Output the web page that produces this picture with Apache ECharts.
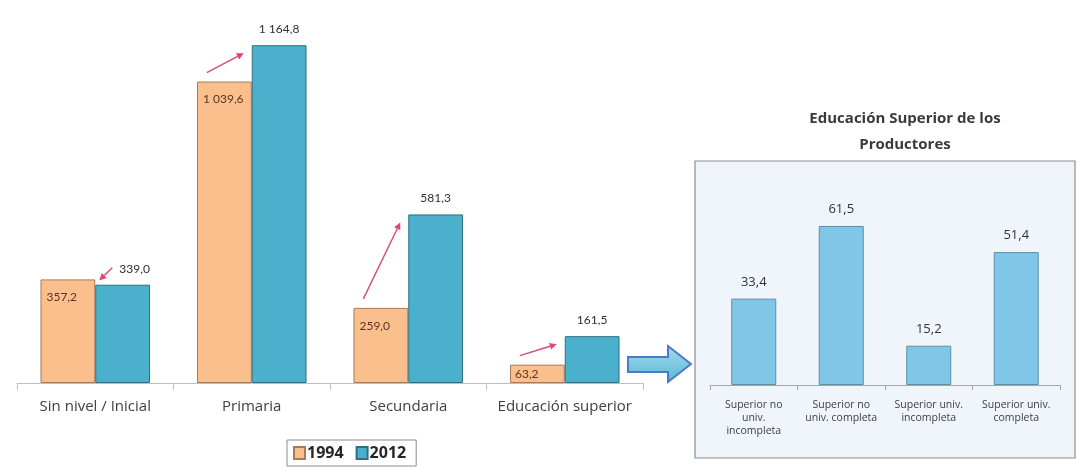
<!DOCTYPE html>
<html>
<head>
<meta charset="utf-8">
<script src="https://cdn.jsdelivr.net/npm/echarts@6/dist/echarts.min.js"></script>
<style>
html,body{margin:0;padding:0;background:#fff;}
#chart{width:1077px;height:471px;}
</style>
</head>
<body>
<div id="chart"></div>
<script>
// ---- data ----
const categories = ['Sin nivel / Inicial', 'Primaria', 'Secundaria', 'Educación superior'];
const values1994 = [357.2, 1039.6, 259.0, 63.2];
const values2012 = [339.0, 1164.8, 581.3, 161.5];
const seriesNames = ['1994', '2012'];

const insetTitle = 'Educación Superior de los\nProductores';
const insetCategories = ['Superior no\nuniv.\nincompleta', 'Superior no\nuniv. completa', 'Superior univ.\nincompleta', 'Superior univ.\ncompleta'];
const insetValues = [33.4, 61.5, 15.2, 51.4];

// ---- helpers ----
function fmt(v) {
  const parts = v.toFixed(1).split('.');
  const intPart = parts[0].replace(/\B(?=(\d{3})+(?!\d))/g, ' ');
  return intPart + ',' + parts[1];
}
const FONT = '"Open Sans", Lato, sans-serif';
const NUMFONT = 'Lato, "Open Sans", sans-serif';

const arrowData = categories.map((c, i) => [i, values1994[i], values2012[i]]);

function renderArrow(params, api) {
  const idx = api.value(0);
  const v1 = api.value(1), v2 = api.value(2);
  const catW = api.size([1, 0])[0];
  const bw = catW * 0.7 / 2;
  const cx = api.coord([idx, 0])[0];
  const y1 = api.coord([idx, v1])[1];
  const y2 = api.coord([idx, v2])[1];
  const oC = cx - bw / 2;
  const tL = cx;
  let sx, sy, ex, ey;
  if (v2 >= v1) {
    sx = oC - 0.32 * bw; sy = y1 - 9;
    ex = tL - 8; ey = y2 + 8;
  } else {
    sx = tL + 17; sy = y2 - 17;
    ex = tL + 4; ey = y1 + 1;
  }
  const ang = Math.atan2(ey - sy, ex - sx);
  const hl = 7, hw = 3.5;
  const bx = ex - hl * Math.cos(ang), by = ey - hl * Math.sin(ang);
  const px = -Math.sin(ang) * hw, py = Math.cos(ang) * hw;
  const col = '#d64a78';
  return {
    type: 'group',
    children: [
      { type: 'line', shape: { x1: sx, y1: sy, x2: bx, y2: by }, style: { stroke: col, lineWidth: 1.4 } },
      { type: 'polygon', shape: { points: [[ex, ey], [bx + px, by + py], [bx - px, by - py]] }, style: { fill: col } }
    ]
  };
}

// per-bar label placement derived from the values
const data1994 = values1994.map(v => ({
  value: v,
  label: v < 100 ? { position: 'insideLeft', offset: [-3, 0] } : {}
}));
const data2012 = values2012.map((v, i) => ({
  value: v,
  label: v < values1994[i] ? { offset: [12, 0] } : {}
}));

const chart = echarts.init(document.getElementById('chart'), null, { renderer: 'canvas' });
chart.setOption({
  backgroundColor: '#ffffff',
  animation: false,
  textStyle: { fontFamily: FONT },
  title: {
    text: insetTitle,
    left: 900,
    top: 101,
    textAlign: 'center',
    textStyle: { fontFamily: FONT, fontSize: 15, fontWeight: 'bold', color: '#3a3a3a', lineHeight: 26 }
  },
  legend: {
    data: seriesNames,
    left: 287,
    top: 440,
    padding: [5, 10, 5, 6],
    borderColor: '#8c8c8c',
    borderWidth: 1,
    itemWidth: 11,
    itemHeight: 12,
    itemGap: 12,
    icon: 'rect',
    textStyle: { fontFamily: FONT, fontSize: 16, fontWeight: 'bold', color: '#262626', padding: [0, 0, 0, -3] }
  },
  graphic: [
    {
      type: 'rect', z: -10, silent: true,
      shape: { x: 695, y: 161, width: 380, height: 297 },
      style: { fill: '#eff5fb', stroke: '#8e8e8e', lineWidth: 1.2 }
    },
    {
      type: 'polygon', z: 10, silent: true,
      shape: { points: [[628, 357], [668, 357], [668, 346], [691, 364], [668, 382], [668, 372], [628, 372]] },
      style: {
        fill: new echarts.graphic.LinearGradient(0, 0, 0, 1, [
          { offset: 0, color: '#9fdcec' }, { offset: 1, color: '#5fb6d6' }
        ]),
        stroke: '#4f78c8', lineWidth: 2
      }
    }
  ],
  grid: [
    { left: 17, right: 434, top: 35, bottom: 88, containLabel: false },
    { left: 710, right: 17, top: 204, bottom: 86, containLabel: false }
  ],
  xAxis: [
    {
      type: 'category', gridIndex: 0, data: categories,
      axisLine: { lineStyle: { color: '#bfbfbf', width: 1 } },
      axisTick: { show: true, length: 7, lineStyle: { color: '#bfbfbf' } },
      axisLabel: { fontFamily: FONT, fontSize: 15, color: '#404040', margin: 16, interval: 0 }
    },
    {
      type: 'category', gridIndex: 1, data: insetCategories,
      axisLine: { lineStyle: { color: '#a6a6a6', width: 1 } },
      axisTick: { show: true, length: 5, lineStyle: { color: '#a6a6a6' } },
      axisLabel: { fontFamily: FONT, fontSize: 10.5, color: '#404040', margin: 14, interval: 0, lineHeight: 13 }
    }
  ],
  yAxis: [
    { type: 'value', gridIndex: 0, min: 0, max: 1200, show: false, splitLine: { show: false } },
    { type: 'value', gridIndex: 1, min: 0, max: 70, show: false, splitLine: { show: false } }
  ],
  series: [
    {
      name: seriesNames[0], type: 'bar', xAxisIndex: 0, yAxisIndex: 0,
      data: data1994, barGap: '0%', barCategoryGap: '30%',
      itemStyle: { color: '#fbbf8e', borderColor: '#a87a58', borderWidth: 1 },
      label: {
        show: true, position: 'insideTopLeft', distance: 8, offset: [-2, 4],
        formatter: p => fmt(p.value),
        fontFamily: NUMFONT, fontSize: 12, color: '#5a3420'
      }
    },
    {
      name: seriesNames[1], type: 'bar', xAxisIndex: 0, yAxisIndex: 0,
      data: data2012, barGap: '0%', barCategoryGap: '30%',
      itemStyle: { color: '#4bb0cc', borderColor: '#2f6f80', borderWidth: 1 },
      label: {
        show: true, position: 'top', distance: 10,
        formatter: p => fmt(p.value),
        fontFamily: NUMFONT, fontSize: 12, color: '#303030'
      }
    },
    {
      name: 'arrows', type: 'custom', xAxisIndex: 0, yAxisIndex: 0,
      data: arrowData, renderItem: renderArrow, z: 5, silent: true,
      encode: { x: 0, y: [1, 2] }
    },
    {
      name: 'inset', type: 'bar', xAxisIndex: 1, yAxisIndex: 1,
      data: insetValues, barWidth: 45,
      itemStyle: { color: '#80c6e6', borderColor: '#5d8fa8', borderWidth: 1 },
      label: {
        show: true, position: 'top', distance: 10,
        formatter: p => fmt(p.value),
        fontFamily: FONT, fontSize: 13, color: '#333333'
      }
    }
  ]
});
</script>
</body>
</html>
